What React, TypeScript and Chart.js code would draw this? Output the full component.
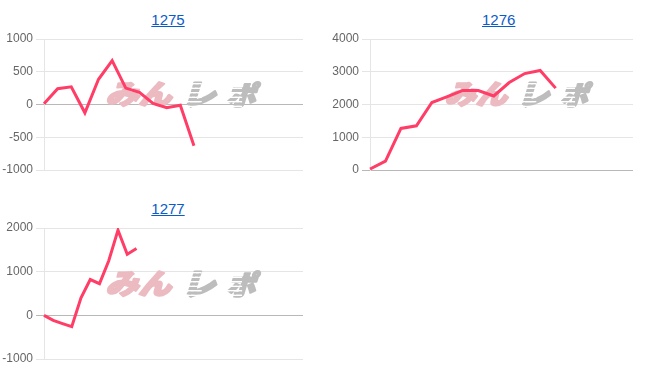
import React, { useEffect, useRef } from "react";
import { Chart, registerables } from "chart.js";

Chart.register(...registerables);

// ---- data ----
const titles = ["1275", "1276", "1277"];

const labels1275 = ["1", "2", "3", "4", "5", "6", "7", "8", "9", "10", "11", "12", "13", "14", "15", "16", "17", "18", "19", "20"];
const values1275 = [10, 240, 270, -127, 385, 670, 250, 185, 15, -50, -10, -630];

const labels1276 = ["1", "2", "3", "4", "5", "6", "7", "8", "9", "10", "11", "12", "13", "14", "15", "16", "17", "18"];
const values1276 = [30, 270, 1270, 1350, 2060, 2240, 2430, 2425, 2260, 2670, 2945, 3040, 2500];

const labels1277 = ["1", "2", "3", "4", "5", "6", "7", "8", "9", "10", "11", "12", "13", "14", "15", "16", "17", "18", "19", "20", "21", "22", "23", "24", "25", "26", "27", "28", "29"];
const values1277 = [0, -115, -190, -260, 400, 820, 725, 1250, 1950, 1400, 1530];

const yTicks1275 = { min: -1000, max: 1000, step: 500 };
const yTicks1276 = { min: 0, max: 4000, step: 1000 };
const yTicks1277 = { min: -1000, max: 2000, step: 1000 };

// ---- layout / style ----
const LINE = "rgb(255, 61, 103)";

type Panel = {
  title: string;
  labels: string[];
  values: number[];
  y: { min: number; max: number; step: number };
  left: number; top: number; width: number; height: number;
  pad: { top: number; bottom: number; left: number; right: number };
  axisW: number;
  titleX: number; titleY: number;
  logo: { dx: number; dy: number; w: number; h: number };
};

const panels: Panel[] = [
  {
    title: titles[0], labels: labels1275, values: values1275, y: yTicks1275,
    left: 0, top: 0, width: 310, height: 190,
    pad: { top: 39, bottom: 20, left: 0, right: 7 }, axisW: 44,
    titleX: 168, titleY: 11,
    logo: { dx: 60, dy: 42, w: 159, h: 27 },
  },
  {
    title: titles[1], labels: labels1276, values: values1276, y: yTicks1276,
    left: 330, top: 0, width: 310, height: 190,
    pad: { top: 39, bottom: 20, left: 0, right: 7 }, axisW: 40,
    titleX: 498.7, titleY: 11,
    logo: { dx: 73, dy: 42, w: 152, h: 27 },
  },
  {
    title: titles[2], labels: labels1277, values: values1277, y: yTicks1277,
    left: 0, top: 190, width: 310, height: 181,
    pad: { top: 38, bottom: 12, left: 0, right: 7 }, axisW: 44,
    titleX: 168, titleY: 200,
    logo: { dx: 60, dy: 42, w: 159, h: 28 },
  },
];

function drawGlyphs(
  ctx: CanvasRenderingContext2D,
  text: string,
  x: number, y: number, w: number, h: number,
  color: string,
  striped: boolean
) {
  const skew = 0.3;
  ctx.save();
  if (striped) {
    ctx.beginPath();
    ctx.rect(x + w * 0.45, y - 4, w * 0.55 + 8, h + 8);
    for (let yy = y - 1; yy < y + h + 2; yy += 4.5) {
      ctx.rect(x - 10, yy, w * 0.45 + 10, 3);
    }
    ctx.clip();
  }
  ctx.font = `900 40px "Noto Sans CJK JP", "Noto Sans CJK SC", sans-serif`;
  ctx.textBaseline = "alphabetic";
  ctx.textAlign = "left";
  const mt = ctx.measureText(text);
  const abl = mt.actualBoundingBoxLeft || 0;
  const abr = mt.actualBoundingBoxRight || mt.width;
  const asc = mt.actualBoundingBoxAscent || 32;
  const desc = mt.actualBoundingBoxDescent || 4;
  const inkW = abl + abr + 3;
  const inkH = asc + desc + 3;
  const sx = (w - skew * h) / inkW;
  const sy = h / inkH;
  ctx.translate(x + (skew * h) / 2, y + h / 2);
  ctx.transform(1, 0, -skew, 1, 0, 0);
  ctx.scale(sx, sy);
  const tx = abl + 1.5;
  const ty = (asc - desc) / 2;
  ctx.fillStyle = color;
  ctx.strokeStyle = color;
  ctx.lineWidth = 3;
  ctx.lineJoin = "round";
  ctx.strokeText(text, tx, ty);
  ctx.fillText(text, tx, ty);
  ctx.restore();
}

const logoPlugin = {
  id: "minrepoLogo",
  beforeDatasetsDraw(chart: any, _args: any, opts: any) {
    if (!opts || !opts.w) return;
    const { ctx, chartArea } = chart;
    const x = chartArea.left + opts.dx;
    const y = chartArea.top + opts.dy;
    const w = opts.w;
    const h = opts.h;
    const pinkW = w * 0.47;
    drawGlyphs(ctx, "みん", x, y, pinkW, h, "#ecbac1", false);
    const gx = x + w * 0.51;
    const gw = (w - w * 0.51) / 2;
    drawGlyphs(ctx, "レ", gx, y, gw - 2, h, "#bdbdbd", true);
    drawGlyphs(ctx, "ポ", gx + gw + 1, y, gw - 1, h, "#bdbdbd", true);
  },
};

function LineCard({ p }: { p: Panel }) {
  const ref = useRef<HTMLCanvasElement | null>(null);
  useEffect(() => {
    if (!ref.current) return;
    const chart = new Chart(ref.current, {
      type: "line",
      data: {
        labels: p.labels,
        datasets: [
          {
            data: p.values,
            borderColor: LINE,
            backgroundColor: LINE,
            borderWidth: 3,
            pointRadius: 0,
            pointHoverRadius: 0,
            tension: 0,
            fill: false,
          },
        ],
      },
      options: {
        animation: false,
        responsive: false,
        devicePixelRatio: 1,
        layout: { padding: p.pad },
        plugins: {
          legend: { display: false },
          title: { display: false },
          tooltip: { enabled: false },
          minrepoLogo: p.logo,
        } as any,
        scales: {
          x: { display: false },
          y: {
            min: p.y.min,
            max: p.y.max,
            ticks: {
              stepSize: p.y.step,
              color: "#666",
              font: { size: 12, family: "Arial, 'Liberation Sans', sans-serif" },
              padding: 3,
              callback: (v: any) => String(v),
            },
            grid: {
              color: (c: any) => (c.tick && c.tick.value === 0 ? "rgba(0,0,0,0.28)" : "rgba(0,0,0,0.1)"),
              tickLength: 8,
            },
            border: { color: "rgba(0,0,0,0.1)" },
            afterFit: (s: any) => {
              s.width = p.axisW;
              s.paddingTop = 0;
              s.paddingBottom = 0;
            },
          },
        },
      },
      plugins: [logoPlugin],
    });
    return () => chart.destroy();
  }, [p]);

  return (
    <>
      <div
        style={{
          position: "absolute",
          left: p.titleX - 50,
          top: p.titleY,
          width: 100,
          textAlign: "center",
          fontFamily: "Arial, 'Liberation Sans', sans-serif",
          fontSize: 15,
          lineHeight: "17px",
        }}
      >
        <a href="#" style={{ color: "#0b5bc9", textDecoration: "underline" }}>
          {p.title}
        </a>
      </div>
      <canvas
        ref={ref}
        width={p.width}
        height={p.height}
        style={{ position: "absolute", left: p.left, top: p.top, width: p.width, height: p.height }}
      />
    </>
  );
}

export default function App() {
  return (
    <div
      style={{
        position: "fixed",
        left: 0,
        top: 0,
        width: 658,
        height: 371,
        overflow: "hidden",
        background: "#fff",
      }}
    >
      {panels.map((p) => (
        <LineCard key={p.title} p={p} />
      ))}
    </div>
  );
}
